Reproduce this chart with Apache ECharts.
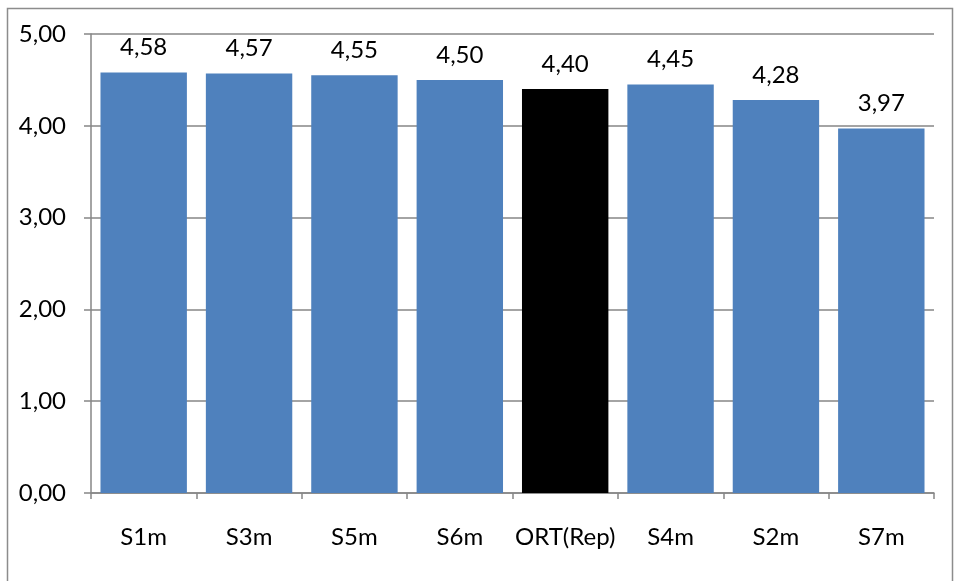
<!DOCTYPE html>
<html>
<head>
<meta charset="utf-8">
<script src="https://cdn.jsdelivr.net/npm/echarts@6/dist/echarts.min.js"></script>
<style>
  html, body { margin: 0; padding: 0; background: #fff; }
  #chart { width: 955px; height: 581px; }
</style>
</head>
<body>
<div id="chart"></div>
<script>
// Mean scores per group
const categories = ['S1m', 'S3m', 'S5m', 'S6m', 'ORT(Rep)', 'S4m', 'S2m', 'S7m'];
const values = [4.58, 4.57, 4.55, 4.50, 4.40, 4.45, 4.28, 3.97];
const highlightCategory = 'ORT(Rep)';

const FONT = 'Lato, "Liberation Sans", Arial, sans-serif';
const fmt = v => v.toFixed(2).replace('.', ',');

const chart = echarts.init(document.getElementById('chart'), null, { renderer: 'canvas' });

chart.setOption({
  animation: false,
  backgroundColor: '#ffffff',
  graphic: [{
    type: 'rect',
    left: 5, top: 6,
    shape: { width: 945, height: 574 },
    style: { fill: 'none', stroke: '#8c8c8c', lineWidth: 1.5 },
    silent: true
  }],
  grid: { left: 91, right: 21, top: 34, bottom: 88, containLabel: false },
  xAxis: {
    type: 'category',
    data: categories,
    axisLine: { lineStyle: { color: '#868686', width: 1.5 } },
    axisTick: { show: true, length: 6, lineStyle: { color: '#868686', width: 1.5 } },
    axisLabel: { interval: 0, margin: 32, fontFamily: FONT, fontSize: 24, color: '#000' }
  },
  yAxis: {
    type: 'value',
    min: 0, max: 5, interval: 1,
    axisLine: { show: true, lineStyle: { color: '#868686', width: 1.5 } },
    axisTick: { show: true, length: 7, lineStyle: { color: '#868686', width: 1.5 } },
    splitLine: { show: true, lineStyle: { color: '#868686', width: 1.5 } },
    axisLabel: { margin: 25, fontFamily: FONT, fontSize: 24, color: '#000', formatter: fmt }
  },
  series: [{
    type: 'bar',
    barCategoryGap: '18%',
    data: categories.map((c, i) => ({
      value: values[i],
      itemStyle: { color: c === highlightCategory ? '#000000' : '#4F81BD' }
    })),
    label: {
      show: true,
      position: 'top',
      distance: 13,
      fontFamily: FONT,
      fontSize: 24,
      color: '#000',
      formatter: p => fmt(p.value)
    }
  }]
});
</script>
</body>
</html>
